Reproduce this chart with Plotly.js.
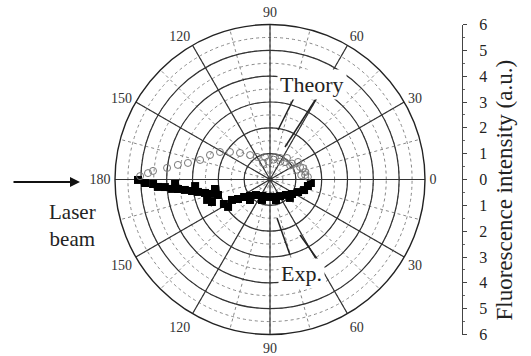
<!DOCTYPE html>
<html>
<head>
<meta charset="utf-8">
<script src="https://cdn.plot.ly/plotly-3.0.1.min.js"></script>
<style>html,body{margin:0;padding:0;background:#fff;}#chart{width:531px;height:356px;}</style>
</head>
<body>
<div id="chart"></div>
<script>
// Angular tick positions and their labels (symmetric about the beam axis)
const angleTicks = [0, 30, 60, 90, 120, 150, 180, 210, 240, 270, 300, 330];
const angleLabels = ['0', '30', '60', '90', '120', '150', '180', '150', '120', '90', '60', '30'];

// Theory (open circles): radius (a.u.) and angle (deg)
const theoryR = [5.03, 4.73, 4.54, 4.01, 3.61, 3.24, 2.81, 2.51, 2.21, 1.88, 1.55, 1.22, 1.01, 0.89, 0.89, 0.92, 1.06, 1.28, 1.35, 1.37,
                 0.69, 0.78, 0.89, 1.05, 1.26, 1.40, 1.47, 0.70, 0.80, 0.95, 1.10, 1.22];
const theoryTheta = [178.5, 177.0, 175.8, 173.6, 171.0, 168.6, 164.4, 157.8, 151.2, 145.5, 138.5, 129.2, 120, 102.5, 77.5, 65, 51.7, 32, 19.2, 7.3,
                     113, 80, 49, 36, 22.6, 12, 3.8, 95, 60, 35, 20, 8];

// Experiment (filled squares): radius (a.u.) and angle (deg)
const expR = [5.11, 4.84, 4.53, 4.35, 4.08, 3.81, 3.58, 3.32, 3.05, 2.83, 2.57, 2.31, 2.10, 2.56, 2.41, 2.02, 1.94, 1.67, 1.45, 1.21,
              1.00, 0.81, 0.71, 0.68, 0.69, 0.75, 0.86, 1.02, 1.19, 1.38, 1.49, 1.59, 1.11, 0.85, 0.83, 1.05, 3.68, 2.91, 2.16];
const expTheta = [180.2, 181.6, 182.2, 183.8, 184.1, 185.5, 185.9, 187.0, 188.4, 189.8, 191.7, 194.0, 196.6, 198.0, 201.2, 208.0, 213.2, 208.3, 211.4, 214.0,
                  219.5, 227.9, 244.1, 263.5, 282.9, 301.2, 315.9, 326.6, 335.9, 342.8, 350.3, 355.1, 225.7, 248.7, 286.3, 317.2, 182.7, 185.0, 189.8];

// Right-hand intensity scale
const scaleVals = [-6, -5, -4, -3, -2, -1, 0, 1, 2, 3, 4, 5, 6];
const scaleLabels = ['6', '5', '4', '3', '2', '1', '0', '1', '2', '3', '4', '5', '6'];

const serif = 'Liberation Serif, Times New Roman, serif';
const W = 531, H = 356;
const px = x => x / W, py = y => 1 - y / H;

const dom = {x: [px(115), px(425)], y: [py(334.5), py(24.5)]};

const traces = [
  // empty trace so that the dotted (minor) grid subplot is drawn
  {type: 'scatterpolar', subplot: 'polar', mode: 'markers', r: [], theta: [], showlegend: false, hoverinfo: 'skip'},
  {type: 'scatterpolar', subplot: 'polar2', mode: 'markers', r: expR, theta: expTheta,
   marker: {symbol: 'square', size: 8, color: '#000', line: {width: 0}}, showlegend: false},
  {type: 'scatterpolar', subplot: 'polar2', mode: 'markers', r: theoryR, theta: theoryTheta,
   marker: {symbol: 'circle-open', size: 7, color: '#777', line: {width: 1}}, showlegend: false},
  {type: 'scatter', x: [], y: [], xaxis: 'x', yaxis: 'y', showlegend: false, hoverinfo: 'skip'}
];

const layout = {
  width: W, height: H,
  margin: {l: 0, r: 0, t: 0, b: 0},
  paper_bgcolor: '#fff', plot_bgcolor: 'rgba(0,0,0,0)',
  font: {family: serif, color: '#222'},
  showlegend: false,
  polar: {
    domain: dom, bgcolor: '#fff',
    radialaxis: {range: [0, 6], dtick: 0.5, showticklabels: false, ticks: '', showline: false,
                 gridcolor: '#888', griddash: 'dot', gridwidth: 1},
    angularaxis: {rotation: 0, direction: 'counterclockwise', dtick: 15, showticklabels: false, ticks: '',
                  showline: false, gridcolor: '#888', griddash: 'dot', gridwidth: 1}
  },
  polar2: {
    domain: dom, bgcolor: 'rgba(0,0,0,0)',
    radialaxis: {range: [0, 6], dtick: 1, showticklabels: false, ticks: '', showline: false,
                 gridcolor: '#333', gridwidth: 1.2},
    angularaxis: {rotation: 0, direction: 'counterclockwise', tickmode: 'array', tickvals: angleTicks, ticktext: angleLabels,
                  ticks: 'outside', ticklen: 1, tickcolor: 'rgba(0,0,0,0)',
                  showline: true, linecolor: '#222', linewidth: 1.4, gridcolor: '#333', gridwidth: 1.2,
                  tickfont: {family: serif, size: 14, color: '#333'}}
  },
  xaxis: {domain: [0.98, 0.99], visible: false, range: [0, 1]},
  yaxis: {domain: dom.y, anchor: 'free', position: px(462), side: 'right', range: [-6, 6],
          tickmode: 'array', tickvals: scaleVals, ticktext: scaleLabels,
          showline: true, linecolor: '#444', linewidth: 1, ticks: 'outside', ticklen: 4, tickcolor: '#444',
          minor: {dtick: 0.5, ticks: 'outside', ticklen: 2, tickcolor: '#666'},
          showgrid: false, zeroline: false, ticklabelstandoff: 9,
          tickfont: {family: serif, size: 16, color: '#222'}},
  annotations: [
    {xref: 'paper', yref: 'paper', x: px(518), y: py(190), text: 'Fluorescence intensity (a.u.)', textangle: -90,
     showarrow: false, font: {family: serif, size: 23, color: '#222'}},
    {xref: 'paper', yref: 'paper', x: px(312), y: py(69), text: 'Theory', showarrow: false,
     font: {family: serif, size: 22, color: '#222'}, bgcolor: '#fff', borderpad: 2},
    {xref: 'paper', yref: 'paper', x: px(301), y: py(289), text: 'Exp.', showarrow: false,
     font: {family: serif, size: 22, color: '#222'}, bgcolor: '#fff', borderpad: 2},
    {xref: 'paper', yref: 'paper', x: px(47), y: py(225), text: 'Laser<br>beam', showarrow: false,
     font: {family: serif, size: 21, color: '#222'}},
    {xref: 'paper', yref: 'paper', axref: 'pixel', ayref: 'pixel', x: px(80), y: py(182), ax: -68, ay: 0,
     text: '', showarrow: true, arrowhead: 2, arrowsize: 1, arrowwidth: 2, arrowcolor: '#111'}
  ],
  shapes: [
    {type: 'line', xref: 'paper', yref: 'paper', x0: px(295), y0: py(96), x1: px(278), y1: py(130), line: {color: '#222', width: 1.5}},
    {type: 'line', xref: 'paper', yref: 'paper', x0: px(321), y0: py(91), x1: px(285), y1: py(147), line: {color: '#222', width: 1.5}},
    {type: 'line', xref: 'paper', yref: 'paper', x0: px(290), y0: py(255), x1: px(277), y1: py(218), line: {color: '#222', width: 1.5}},
    {type: 'line', xref: 'paper', yref: 'paper', x0: px(323), y0: py(267), x1: px(300), y1: py(235), line: {color: '#222', width: 1.5}}
  ]
};

Plotly.newPlot('chart', traces, layout, {displayModeBar: false, staticPlot: true});
</script>
</body>
</html>
